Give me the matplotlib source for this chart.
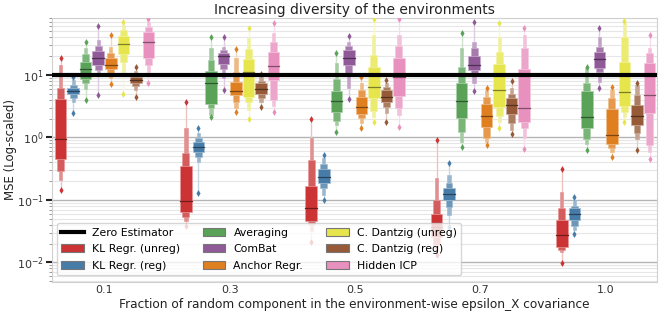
import colorsys

import matplotlib
matplotlib.use("Agg")
import matplotlib.pyplot as plt
import matplotlib.colors as mcolors
from matplotlib.lines import Line2D
from matplotlib.patches import Patch
import numpy as np

FRACTIONS = ["0.1", "0.3", "0.5", "0.7", "1.0"]
METHODS = [
    "KL Regr. (unreg)",
    "KL Regr. (reg)",
    "Averaging",
    "ComBat",
    "Anchor Regr.",
    "C. Dantzig (unreg)",
    "C. Dantzig (reg)",
    "Hidden ICP",
]
SET1 = ["#e41a1c", "#377eb8", "#4daf4a", "#984ea3", "#ff7f00", "#ffff33", "#a65628", "#f781bf"]
ZERO_ESTIMATOR = 10.0

# one row per method, one column per fraction (MSE values)
MEDIAN = [
    [0.935, 0.0964, 0.0736, 0.0374, 0.0275],
    [5.55, 0.713, 0.236, 0.123, 0.0604],
    [12.5, 7.36, 3.84, 3.84, 2.1],
    [18.5, 20.4, 18.5, 14.5, 17.8],
    [14.5, 5.55, 3.11, 2.21, 1.1],
    [31.7, 11.0, 6.5, 5.75, 5.28],
    [8.32, 5.97, 4.5, 3.31, 2.24],
    [33.3, 14.1, 9.4, 2.93, 4.79],
]
BOX1_LO = [
    [0.453, 0.065, 0.0461, 0.0259, 0.0179],
    [4.91, 0.593, 0.185, 0.1, 0.0479],
    [8.52, 3.39, 2.59, 2.08, 1.4],
    [14.5, 14.8, 14.5, 12.0, 12.8],
    [12.3, 4.79, 2.38, 1.49, 0.777],
    [21.4, 4.5, 4.34, 3.11, 3.23],
    [7.36, 4.91, 3.65, 2.41, 1.58],
    [18.5, 8.32, 4.67, 1.79, 2.43],
]
BOX1_HI = [
    [4.08, 0.35, 0.17, 0.0597, 0.0479],
    [6.12, 0.858, 0.313, 0.154, 0.0736],
    [16.3, 11.6, 5.55, 7.54, 5.55],
    [24.2, 22.8, 25.1, 20.4, 23.6],
    [18.9, 7.82, 4.5, 3.39, 2.86],
    [42.6, 18.0, 13.6, 14.8, 16.3],
    [9.4, 7.36, 5.75, 4.34, 3.31],
    [49.3, 23.6, 18.5, 12.5, 15.8],
]
BOX2_LO = [
    [0.291, 0.0541, 0.0408, 0.0191, 0.0158],
    [4.23, 0.494, 0.154, 0.0782, 0.0384],
    [7.36, 3.0, 1.84, 1.24, 0.946],
    [12.0, 12.5, 10.6, 10.3, 11.3],
    [10.6, 3.65, 2.08, 0.994, 0.688],
    [16.3, 3.65, 2.69, 2.24, 2.59],
    [6.75, 4.34, 3.11, 1.69, 1.166],
    [14.5, 3.98, 2.93, 1.44, 0.759],
]
BOX2_HI = [
    [6.27, 0.558, 0.436, 0.1, 0.0754],
    [6.92, 0.97, 0.377, 0.185, 0.0811],
    [21.4, 17.4, 8.63, 13.6, 7.36],
    [29.5, 24.8, 29.5, 26.7, 28.4],
    [22.2, 11.0, 5.75, 4.5, 4.23],
    [52.5, 25.7, 20.9, 23.6, 41.1],
    [10.3, 8.02, 6.5, 4.91, 4.79],
    [59.3, 33.3, 29.5, 26.7, 22.2],
]
BOX3_LO = [
    [0.209, 0.0461, 0.0319, 0.0158, 0.0146],
    [3.65, 0.41, 0.12, 0.0575, 0.0331],
    [5.97, 2.29, 1.58, 0.858, 0.777],
    [9.64, 8.85, 6.12, 7.36, 7.82],
    [8.85, 2.93, 1.69, 0.858, 0.593],
    [11.3, 2.75, 2.15, 1.79, 2.15],
    [5.75, 3.65, 2.43, 1.32, 0.946],
    [11.3, 3.23, 2.29, 0.97, 0.593],
]
BOX3_HI = [
    [14.5, 1.4, 0.97, 0.222, 0.136],
    [8.32, 1.166, 0.464, 0.251, 0.1],
    [27.4, 26.7, 15.4, 26.7, 12.8],
    [36.3, 28.4, 34.1, 34.1, 41.1],
    [28.4, 18.5, 7.36, 5.75, 5.75],
    [63.1, 38.6, 43.6, 41.1, 67.1],
    [11.6, 9.4, 7.36, 6.12, 6.92],
    [71.3, 46.4, 43.6, 43.6, 26.7],
]
OUT_LO = [
    [0.145, 0.0388, 0.0216, 0.0132, 0.0097],
    [2.5, 0.128, 0.1, 0.0374, 0.0286],
    [3.98, 2.15, 1.24, 0.713, 0.631],
    [4.79, 5.75, 4.08, 5.55, 6.27],
    [7.18, 2.53, 1.44, 0.759, 0.494],
    [4.97, 1.98, 1.75, 1.4, 1.75],
    [4.5, 3.11, 1.79, 1.12, 0.631],
    [7.36, 2.53, 1.49, 0.655, 0.447],
]
OUT_HI = [
    [18.5, 3.74, 1.98, 0.912, 0.313],
    [9.4, 1.44, 0.525, 0.386, 0.113],
    [33.3, 41.1, 22.2, 46.4, 13.6],
    [60.8, 41.1, 42.6, 69.6, 55.8],
    [43.6, 25.7, 9.4, 6.27, 6.5],
    [71.3, 57.2, 78.7, 67.1, 73.1],
    [13.6, 10.3, 8.32, 8.02, 7.54],
    [78.7, 67.1, 78.7, 57.2, 43.6],
]


def _desaturate(hex_color: str, prop: float = 0.75) -> np.ndarray:
    r, g, b = mcolors.to_rgb(hex_color)
    h, l, s = colorsys.rgb_to_hls(r, g, b)
    return np.array(colorsys.hls_to_rgb(h, l, s * prop))


def _lighten(rgb: np.ndarray, amount: float) -> np.ndarray:
    return rgb + (1 - rgb) * amount


colors = [_desaturate(c) for c in SET1]

fig = plt.figure(figsize=(6.65, 3.14), dpi=100)
ax = fig.add_axes([0.078, 0.102, 0.910, 0.841])
ax.set_yscale("log")

hue_step = 0.1
box_widths = [0.092, 0.055, 0.026]
shades = [0.0, 0.2, 0.45]
levels = [(BOX3_LO, BOX3_HI), (BOX2_LO, BOX2_HI), (BOX1_LO, BOX1_HI)]

for j, base in enumerate(colors):
    for i in range(len(FRACTIONS)):
        x = i + (j - 3.5) * hue_step
        tail = _lighten(base, 0.7)
        ax.plot([x, x], [OUT_LO[j][i], OUT_HI[j][i]], color=tail, lw=1.0, zorder=2)
        for lvl, (lo, hi) in zip([2, 1, 0], levels):
            ax.bar(
                x, hi[j][i] - lo[j][i], bottom=lo[j][i], width=box_widths[lvl],
                color=_lighten(base, shades[lvl]), edgecolor=_lighten(base, 0.5),
                linewidth=0.5, zorder=3,
            )
        half = box_widths[0] / 2
        ax.plot([x - half, x + half], [MEDIAN[j][i]] * 2, color=base * 0.55, lw=0.9, zorder=4)
        ax.plot([x, x], [OUT_LO[j][i], OUT_HI[j][i]], ls="none", marker="d",
                markersize=3.5, color=base, markeredgewidth=0, zorder=4)

ax.axhline(ZERO_ESTIMATOR, color="black", lw=3, zorder=5)

ax.set_xlim(-0.42, 4.41)
ax.set_ylim(0.00487, 81.7)
ax.set_xticks(range(len(FRACTIONS)))
ax.set_xticklabels(FRACTIONS)

ax.grid(axis="y", which="major", color="#b4b4b4", lw=1.0)
ax.grid(axis="y", which="minor", color="#e6e6e6", lw=0.8)
ax.grid(axis="x", visible=False)
ax.set_axisbelow(True)
for spine in ax.spines.values():
    spine.set_color("#d0d0d0")
ax.tick_params(axis="y", which="major", length=4, width=1.5, color="#222222", labelsize=8, pad=2)
ax.tick_params(axis="y", which="minor", length=2, width=0.6, color="#888888")
ax.tick_params(axis="x", length=0, labelsize=8, colors="#333333", pad=2)
ax.tick_params(axis="y", labelcolor="#333333")

ax.set_title("Increasing diversity of the environments", fontsize=10, color="#222222", pad=3)
ax.set_xlabel("Fraction of random component in the environment-wise epsilon_X covariance",
              fontsize=8.7, color="#222222", labelpad=2)
ax.set_ylabel("MSE (Log-scaled)", fontsize=8.5, color="#222222", labelpad=0)

handles = [Line2D([0], [0], color="black", lw=3)]
handles += [Patch(facecolor=c, edgecolor="#777777", lw=0.8) for c in colors]
labels = ["Zero Estimator"] + METHODS
ax.legend(handles, labels, ncol=3, loc="lower left", fontsize=7.8, frameon=True,
          facecolor="white", edgecolor="#cccccc", framealpha=0.8,
          bbox_to_anchor=(0.008, 0.027), borderaxespad=0, columnspacing=2.1,
          labelspacing=0.6, handlelength=2.1, handletextpad=0.74, borderpad=0.4)

fig.savefig("out.png", dpi=100, facecolor="white")
